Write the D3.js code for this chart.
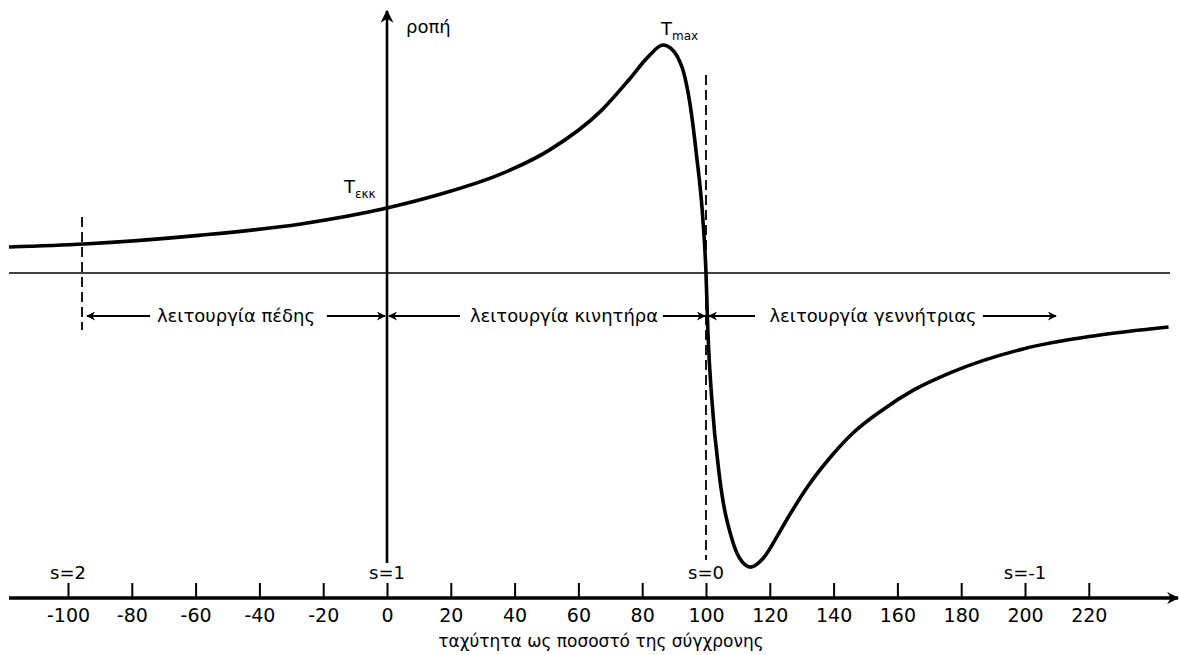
<!DOCTYPE html>
<html><head><meta charset="utf-8">
<script src="https://cdn.jsdelivr.net/npm/d3@7"></script>
<style>body{margin:0;background:#fff}svg{display:block}text{font-family:"DejaVu Sans",Verdana,sans-serif;fill:#000}</style>
</head><body>
<svg id="c" width="1179" height="655"></svg>
<script>
// speed (% of synchronous) and torque (% of Tmax)
const speed  = [-118.5,-95,-59,-27,0,16.6,35,51,67,76,82,86.5,89,91,93,95,97,99,100,100.6,101.8,104.3,108.2,110.5,114,118,122.3,126,132,139,146,155,165,176.5,199.4,222,245];
const torque = [11.4,12.7,16.5,21.5,28.5,34.5,43,54,71,85,95,100,98.5,95,88,74,52,24,0,-26,-55,-90,-117,-125,-129,-125,-115.5,-106.6,-93.4,-80.8,-70.3,-60.4,-51.4,-43.8,-33.3,-27.5,-23.7];
const tickValues = [-100,-80,-60,-40,-20,0,20,40,60,80,100,120,140,160,180,200,220];
const slipMarks = [{v:-100,label:"s=2"},{v:0,label:"s=1"},{v:100,label:"s=0"},{v:200,label:"s=-1"}];
const regions = ["λειτουργία πέδης","λειτουργία κινητήρα","λειτουργία γεννήτριας"];
const xTitle = "ταχύτητα ως ποσοστό της σύγχρονης";
const yTitle = "ροπή";

const svg = d3.select("#c");
const x = d3.scaleLinear().domain([0,100]).range([387,706]);
const y = d3.scaleLinear().domain([0,100]).range([273,45]);
const axisY = 598;

const defs = svg.append("defs");
function marker(id, w, h){
  defs.append("marker").attr("id",id).attr("viewBox","0 0 10 10").attr("refX",9).attr("refY",5)
    .attr("markerUnits","userSpaceOnUse").attr("markerWidth",w).attr("markerHeight",h).attr("orient","auto-start-reverse")
    .append("path").attr("d","M0,0 L10,5 L0,10 L3,5 Z").attr("fill","#000");
}
marker("big",19,13);
marker("axis",16,12);
marker("small",13,9);

// zero line
svg.append("line").attr("x1",9).attr("x2",1170).attr("y1",y(0)).attr("y2",y(0)).attr("stroke","#000").attr("stroke-width",1.6);

// vertical torque axis
svg.append("line").attr("x1",x(0)).attr("x2",x(0)).attr("y1",563).attr("y2",11)
  .attr("stroke","#000").attr("stroke-width",2.6).attr("marker-end","url(#big)");
svg.append("text").attr("x",406).attr("y",33).attr("font-size",18).text(yTitle);

// dashed lines
svg.append("line").attr("x1",x(100)).attr("x2",x(100)).attr("y1",75).attr("y2",560)
  .attr("stroke","#000").attr("stroke-width",1.8).attr("stroke-dasharray","10,5");
svg.append("line").attr("x1",x(-95.6)).attr("x2",x(-95.6)).attr("y1",217).attr("y2",330)
  .attr("stroke","#000").attr("stroke-width",1.8).attr("stroke-dasharray","10,5");

// curve
const pts = speed.map((s,i)=>[s,torque[i]]);
svg.append("path").datum(pts)
  .attr("d", d3.line().x(d=>x(d[0])).y(d=>y(d[1])).curve(d3.curveMonotoneX))
  .attr("fill","none").attr("stroke","#000").attr("stroke-width",3.6).attr("stroke-linejoin","round");

// bottom axis
const ax = svg.append("g").attr("transform",`translate(0,${axisY})`)
  .call(d3.axisBottom(x).tickValues(tickValues).tickSize(-15).tickPadding(11).tickFormat(d=>String(d)));
ax.select(".domain").remove();
ax.selectAll(".tick line").attr("stroke","#000").attr("stroke-width",2);
ax.selectAll(".tick text").attr("font-size",19).attr("font-family","DejaVu Sans, Verdana, sans-serif");
svg.append("line").attr("x1",9).attr("x2",1178).attr("y1",axisY).attr("y2",axisY)
  .attr("stroke","#000").attr("stroke-width",3.4).attr("marker-end","url(#axis)");

svg.append("text").attr("x",601).attr("y",647).attr("text-anchor","middle").attr("font-size",17).text(xTitle);

// slip labels
svg.selectAll(".slip").data(slipMarks).enter().append("text")
  .attr("x",d=>x(d.v)).attr("y",579).attr("text-anchor","middle").attr("font-size",18).text(d=>d.label);

// Tmax and Tekk labels
const tm = svg.append("text").attr("x",661).attr("y",35).attr("font-size",18);
tm.append("tspan").text("T");
tm.append("tspan").attr("font-size",12).attr("dy",5).text("max");
const te = svg.append("text").attr("x",344).attr("y",193).attr("font-size",18);
te.append("tspan").text("T");
te.append("tspan").attr("font-size",12).attr("dy",5).text("εκκ");

// region arrows
const ay = 316;
function arrow(x1,x2){
  svg.append("line").attr("x1",x1).attr("x2",x2).attr("y1",ay).attr("y2",ay)
    .attr("stroke","#000").attr("stroke-width",1.8).attr("marker-end","url(#small)");
}
const reg = [
  {text:regions[0], cx:236, l:[150,87], r:[327,385]},
  {text:regions[1], cx:564, l:[460,389], r:[663,705]},
  {text:regions[2], cx:873, l:[755,709], r:[983,1056]}
];
reg.forEach(r=>{
  arrow(r.l[0],r.l[1]); arrow(r.r[0],r.r[1]);
  svg.append("text").attr("x",r.cx).attr("y",ay+6).attr("text-anchor","middle").attr("font-size",18).text(r.text);
});
</script>
</body></html>
